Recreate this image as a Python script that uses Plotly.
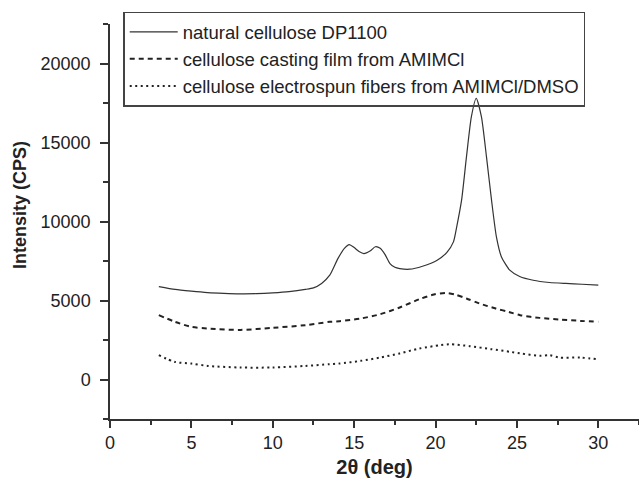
import plotly.graph_objects as go

# Natural cellulose DP1100
x_nat = [3, 4, 5, 6, 7, 8, 9, 10, 11, 12, 12.5, 13, 13.5, 14, 14.4, 14.7, 15.0, 15.3, 15.6,
         16.0, 16.3, 16.6, 16.9, 17.2, 17.5, 17.8, 18.4, 19.2, 20.1, 20.7, 21.1, 21.3, 21.6,
         21.9, 22.2, 22.5, 22.82, 23.13, 23.44, 23.74, 24.05, 24.56, 25.17, 26.0, 27.0, 28.0,
         29.0, 30.0]
y_nat = [5880, 5700, 5590, 5500, 5450, 5420, 5430, 5480, 5560, 5700, 5800, 6080, 6600, 7650,
         8300, 8540, 8350, 8100, 7970, 8150, 8400, 8300, 7900, 7340, 7100, 7020, 6980, 7170,
         7550, 8050, 8710, 9660, 11350, 14090, 16620, 17800, 16620, 14090, 11350, 9030, 7760,
         6920, 6520, 6280, 6140, 6080, 6030, 5970]

# Cellulose casting film from AMIMCl
x_cast = [3, 4, 5, 6, 8, 10, 12, 13.5, 14.1, 15.4, 16.6, 17.8, 19.0, 19.9, 20.6, 21.2, 21.9,
          22.7, 23.7, 24.5, 25.2, 26.4, 27.6, 28.9, 30]
y_cast = [4070, 3650, 3330, 3230, 3140, 3270, 3440, 3650, 3690, 3860, 4130, 4560, 5080, 5380,
          5480, 5380, 5130, 4810, 4490, 4280, 4070, 3900, 3800, 3710, 3650]

# Cellulose electrospun fibers from AMIMCl/DMSO
x_spun = [3, 4, 5, 6, 8, 10, 12, 13.5, 14.1, 15.4, 16.6, 17.8, 19.0, 20.3, 20.9, 22.1, 23.4,
          24.6, 25.2, 26.4, 27.0, 27.6, 28.9, 30]
y_spun = [1540, 1110, 1010, 860, 760, 760, 860, 970, 1010, 1180, 1390, 1650, 1960, 2170, 2230,
          2110, 1920, 1750, 1650, 1500, 1540, 1390, 1390, 1270]

names = ["natural cellulose DP1100",
         "cellulose casting film from AMIMCl",
         "cellulose electrospun fibers from AMIMCl/DMSO"]

x_ticks = [0, 5, 10, 15, 20, 25, 30]
y_ticks = [0, 5000, 10000, 15000, 20000]

FONT = "Liberation Sans, Arial, sans-serif"

fig = go.Figure()
fig.add_trace(go.Scatter(x=x_nat, y=y_nat, mode="lines", name=names[0],
                         line=dict(color="#333333", width=1.2, shape="spline", smoothing=0.6)))
fig.add_trace(go.Scatter(x=x_cast, y=y_cast, mode="lines", name=names[1],
                         line=dict(color="#222222", width=2, dash="5px,4px", shape="spline", smoothing=0.8)))
fig.add_trace(go.Scatter(x=x_spun, y=y_spun, mode="lines", name=names[2],
                         line=dict(color="#222222", width=2, dash="2px,3.5px", shape="spline", smoothing=0.8)))

fig.update_layout(
    width=639, height=481,
    margin=dict(l=110, r=0, t=24, b=62),
    paper_bgcolor="white", plot_bgcolor="white",
    font=dict(family=FONT, size=18, color="#222222"),
    showlegend=True,
    legend=dict(x=0.025, y=1.031, xanchor="left", yanchor="top",
                bordercolor="#444444", borderwidth=1.5, bgcolor="rgba(255,255,255,0)",
                font=dict(family=FONT, size=18.5, color="#222222"),
                itemwidth=48, tracegroupgap=0),
    xaxis=dict(range=[0, 32.5], tickvals=x_ticks, ticks="outside", ticklen=7, tickwidth=1.5,
               tickcolor="#333333", showline=True, linecolor="#333333", linewidth=1.5,
               showgrid=False, zeroline=False,
               minor=dict(dtick=2.5, tick0=0, ticks="outside", ticklen=4, tickwidth=1.5,
                          tickcolor="#333333", showgrid=False),
               title=dict(text="<b>2θ (deg)</b>", font=dict(size=20, family=FONT), standoff=8)),
    yaxis=dict(range=[-2500, 22500], tickvals=y_ticks, tickformat="d", ticks="outside",
               ticklen=8, tickwidth=1.5,
               tickcolor="#333333", showline=True, linecolor="#333333", linewidth=1.5,
               showgrid=False, zeroline=False, ticklabelstandoff=6,
               minor=dict(dtick=2500, tick0=0, ticks="outside", ticklen=5, tickwidth=1.5,
                          tickcolor="#333333", showgrid=False)),
    annotations=[dict(text="<b>Intensity (CPS)</b>", textangle=-90, xref="paper", yref="paper",
                      x=-0.170, y=0.542, xanchor="center", yanchor="middle", showarrow=False,
                      font=dict(size=18, family=FONT, color="#222222"))],
)

fig.write_html("out.html", config={"displayModeBar": False},
               post_script="document.body.style.margin='0px';document.body.style.overflow='hidden';")
